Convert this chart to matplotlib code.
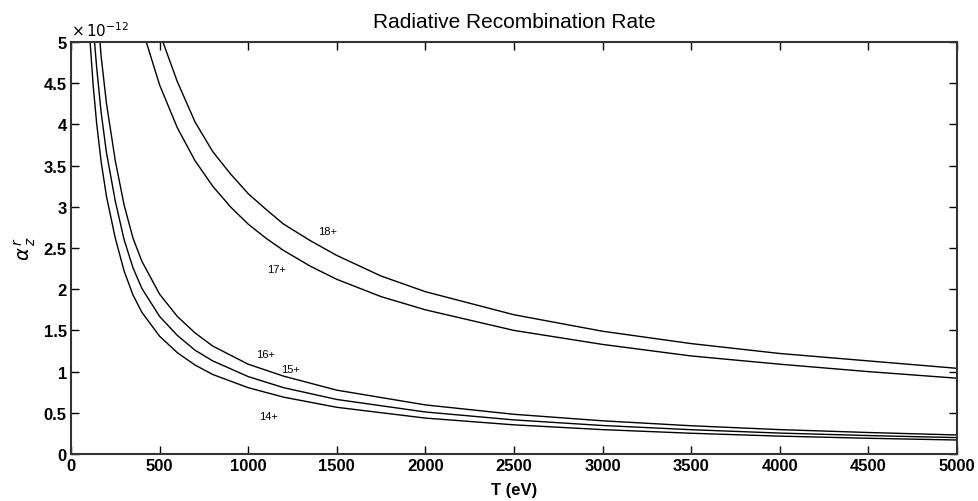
import matplotlib
matplotlib.use("Agg")
import matplotlib.pyplot as plt

# radiative recombination rate, units of 1e-12
t_14 = [108, 125, 145, 170, 200, 250, 300, 350, 400, 500, 600, 700, 800, 1000,
        1200, 1500, 2000, 2500, 3000, 3500, 4000, 4500, 5000]
a_14 = [5.0, 4.48, 4.01, 3.55, 3.13, 2.62, 2.22, 1.93, 1.72, 1.43, 1.23, 1.08, 0.965, 0.805,
        0.69, 0.567, 0.436, 0.354, 0.296, 0.252, 0.217, 0.191, 0.170]

t_15 = [133, 145, 170, 200, 250, 300, 350, 400, 500, 600, 700, 800, 1000,
        1200, 1500, 2000, 2500, 3000, 3500, 4000, 4500, 5000]
a_15 = [5.0, 4.69, 4.15, 3.66, 3.07, 2.60, 2.26, 2.01, 1.67, 1.44, 1.26, 1.13, 0.94,
        0.805, 0.662, 0.51, 0.414, 0.346, 0.295, 0.254, 0.224, 0.199]

t_16 = [164, 170, 200, 250, 300, 350, 400, 500, 600, 700, 800, 1000,
        1200, 1500, 2000, 2500, 3000, 3500, 4000, 4500, 5000]
a_16 = [5.0, 4.83, 4.26, 3.56, 3.02, 2.62, 2.34, 1.94, 1.67, 1.47, 1.31, 1.09,
        0.945, 0.775, 0.596, 0.482, 0.403, 0.343, 0.296, 0.261, 0.231]

t_17 = [425, 500, 600, 700, 800, 900, 1000, 1100, 1200, 1350, 1500, 1750, 2000,
        2500, 3000, 3500, 4000, 4500, 5000]
a_17 = [5.0, 4.48, 3.96, 3.56, 3.25, 3.00, 2.79, 2.62, 2.47, 2.28, 2.12, 1.91, 1.75,
        1.50, 1.33, 1.19, 1.09, 1.00, 0.92]

t_18 = [519, 600, 700, 800, 900, 1000, 1100, 1200, 1350, 1500, 1750, 2000,
        2500, 3000, 3500, 4000, 4500, 5000]
a_18 = [5.0, 4.52, 4.03, 3.67, 3.40, 3.16, 2.97, 2.79, 2.59, 2.41, 2.16, 1.97,
        1.69, 1.49, 1.34, 1.22, 1.13, 1.04]

labels = ["14+", "15+", "16+", "17+", "18+"]
label_t = [1115, 1240, 1098, 1161, 1450]
label_a = [0.46, 1.03, 1.21, 2.245, 2.71]

x_ticks = [0, 500, 1000, 1500, 2000, 2500, 3000, 3500, 4000, 4500, 5000]
y_ticks = [0, 0.5, 1, 1.5, 2, 2.5, 3, 3.5, 4, 4.5, 5]

plt.rcParams['font.family'] = ['Liberation Sans', 'DejaVu Sans']

fig = plt.figure(figsize=(9.79, 5.02), dpi=100)
ax = fig.add_axes([0.0725, 0.0936, 0.905, 0.8207])

for t, a in [(t_14, a_14), (t_15, a_15), (t_16, a_16), (t_17, a_17), (t_18, a_18)]:
    ax.plot(t, a, color="black", lw=1.0)

for lab, t, a in zip(labels, label_t, label_a):
    ax.text(t, a, lab, fontsize=8, ha="center", va="center")

ax.set_xlim(0, 5000)
ax.set_ylim(0, 5)
ax.set_xticks(x_ticks)
ax.set_yticks(y_ticks)
ax.set_xticklabels([str(v) for v in x_ticks])
ax.set_yticklabels([f"{v:g}" for v in y_ticks])
ax.tick_params(direction="in", top=True, right=True, length=6, width=1,
               labelsize=12, pad=3)
for lab in ax.get_xticklabels() + ax.get_yticklabels():
    lab.set_fontweight("bold")
for sp in ax.spines.values():
    sp.set_linewidth(1.5)
    sp.set_color("#333333")

ax.set_title("Radiative Recombination Rate", fontsize=15, pad=11)
ax.set_xlabel("T (eV)", fontsize=12, fontweight="bold", labelpad=6)
ax.set_ylabel(r"$\alpha^{\,r}_{\,z}$", fontsize=14, labelpad=4)
ax.text(0.0, 1.008, r"$\times\,10^{-12}$", transform=ax.transAxes, fontsize=11,
        ha="left", va="bottom")

fig.savefig("out.png", dpi=100)
